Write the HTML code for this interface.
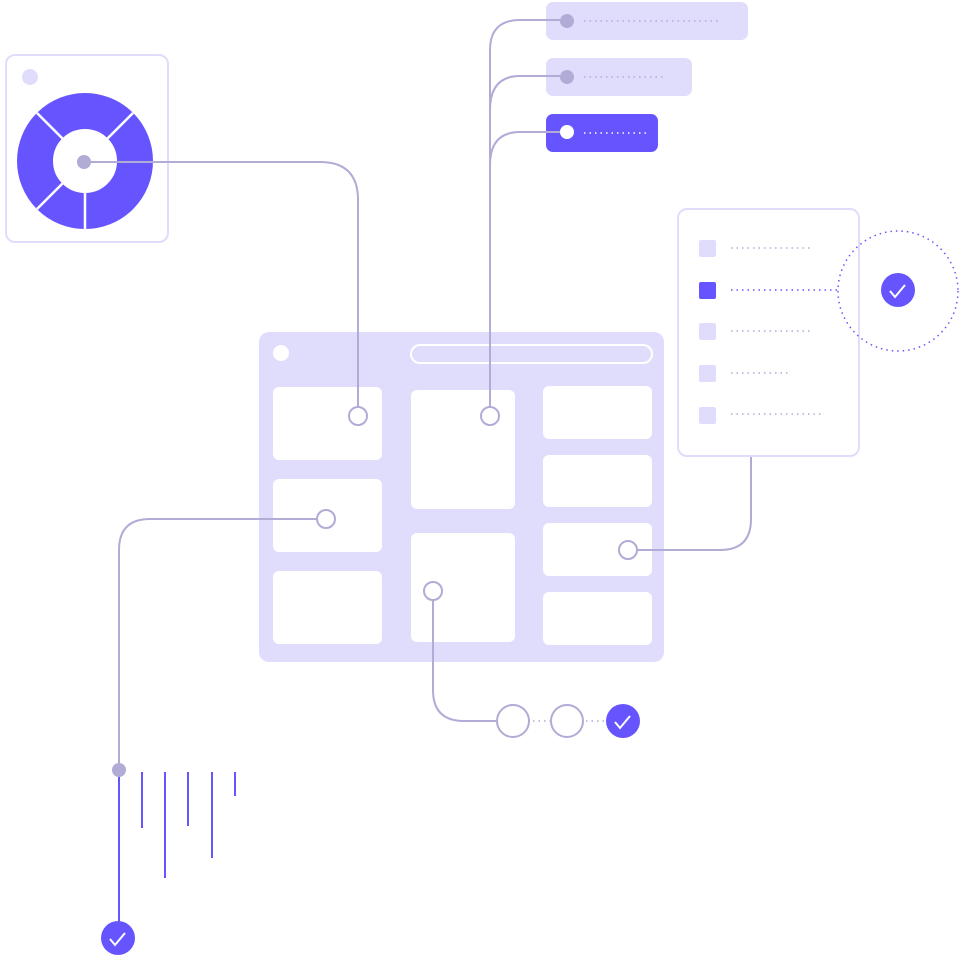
<!DOCTYPE html>
<html><head><style>html,body{margin:0;padding:0;background:#fff}svg{display:block}</style></head>
<body>
<svg width="961" height="960" viewBox="0 0 961 960" xmlns="http://www.w3.org/2000/svg">
<!-- left panel -->
<rect x="6" y="55" width="162" height="187" rx="9" fill="#fff" stroke="#e0ddfc" stroke-width="2"/>
<circle cx="30" cy="77" r="8" fill="#e0ddfc"/>
<circle cx="85" cy="161" r="50" fill="none" stroke="#6655ff" stroke-width="36"/>
<g stroke="#fff" stroke-width="2.5">
<line x1="85" y1="161" x2="133" y2="113"/>
<line x1="85" y1="161" x2="37" y2="113"/>
<line x1="85" y1="161" x2="37" y2="209"/>
<line x1="85" y1="161" x2="85" y2="230"/>
</g>
<circle cx="85" cy="161" r="31" fill="#fff"/>
<!-- pills -->
<rect x="546" y="2" width="202" height="38" rx="7" fill="#e0ddfc"/>
<rect x="546" y="58" width="146" height="38" rx="7" fill="#e0ddfc"/>
<rect x="546" y="114" width="112" height="38" rx="7" fill="#6655ff"/>
<!-- main panel -->
<rect x="259" y="332" width="405" height="330" rx="10" fill="#e0ddfc"/>
<circle cx="281" cy="353" r="8" fill="#fff"/>
<rect x="411" y="345" width="241" height="18" rx="9" fill="none" stroke="#fff" stroke-width="2"/>
<g fill="#fff">
<rect x="273" y="387" width="109" height="73" rx="6"/>
<rect x="273" y="479" width="109" height="73" rx="6"/>
<rect x="273" y="571" width="109" height="73" rx="6"/>
<rect x="411" y="390" width="104" height="119" rx="6"/>
<rect x="411" y="533" width="104" height="109" rx="6"/>
<rect x="543" y="386" width="109" height="53" rx="6"/>
<rect x="543" y="455" width="109" height="52" rx="6"/>
<rect x="543" y="523" width="109" height="53" rx="6"/>
<rect x="543" y="592" width="109" height="53" rx="6"/>
</g>
<!-- list panel -->
<rect x="678" y="209" width="181" height="247" rx="9" fill="#fff" stroke="#e0ddfc" stroke-width="2"/>
<!-- connectors on top -->
<g fill="none" stroke="#b0acd6" stroke-width="2">
<path d="M84 162 H320 Q358 162 358 200 V407"/>
<path d="M490 407 V50 Q490 20 520 20 H560"/>
<path d="M490 110 Q490 76 520 76 H560"/>
<path d="M490 165 Q490 132 520 132 H560"/>
<path d="M317 519 H150 Q119 519 119 550 V770"/>
<path d="M433 600 V690 Q433 721 464 721 H496"/>
<path d="M637 550 H720 Q751 550 751 519 V457"/>
</g>
<circle cx="84" cy="162" r="7" fill="#b0acd6"/>
<circle cx="567" cy="21" r="7" fill="#b0acd6"/>
<circle cx="567" cy="77" r="7" fill="#b0acd6"/>
<circle cx="567" cy="132" r="7" fill="#fff"/>
<g fill="#fff" stroke="#b0acd6" stroke-width="2">
<circle cx="358" cy="416" r="9"/>
<circle cx="490" cy="416" r="9"/>
<circle cx="326" cy="519" r="9"/>
<circle cx="628" cy="550" r="9"/>
<circle cx="433" cy="591" r="9"/>
</g>
<g fill="#e0ddfc">
<rect x="699" y="240" width="17" height="17" rx="2"/>
<rect x="699" y="323" width="17" height="17" rx="2"/>
<rect x="699" y="365" width="17" height="17" rx="2"/>
<rect x="699" y="407" width="17" height="17" rx="2"/>
</g>
<rect x="699" y="282" width="17" height="17" rx="2" fill="#6655ff"/>
<g stroke-width="1.5" stroke-dasharray="1.5 4" fill="none">
<line x1="584" y1="21" x2="720" y2="21" stroke="#b0acd6"/>
<line x1="584" y1="77" x2="664" y2="77" stroke="#b0acd6"/>
<line x1="584" y1="133" x2="648" y2="133" stroke="#fff"/>
<line x1="731" y1="248" x2="810" y2="248" stroke="#b0acd6"/>
<line x1="731" y1="290" x2="838" y2="290" stroke="#6655ff"/>
<line x1="731" y1="331" x2="810" y2="331" stroke="#b0acd6"/>
<line x1="731" y1="373" x2="788" y2="373" stroke="#b0acd6"/>
<line x1="731" y1="414" x2="822" y2="414" stroke="#b0acd6"/>
<circle cx="898" cy="291" r="60" stroke="#6655ff"/>
<line x1="533" y1="721" x2="550" y2="721" stroke="#b0acd6"/>
<line x1="586" y1="721" x2="606" y2="721" stroke="#b0acd6"/>
</g>
<circle cx="898" cy="290" r="17" fill="#6655ff"/>
<path d="M890 291 l5 6 l10 -12" stroke="#fff" stroke-width="2" fill="none"/>
<circle cx="513" cy="721" r="16" fill="#fff" stroke="#b0acd6" stroke-width="2"/>
<circle cx="567" cy="721" r="16" fill="#fff" stroke="#b0acd6" stroke-width="2"/>
<circle cx="623" cy="721" r="17" fill="#6655ff"/>
<path d="M615 722 l5 6 l10 -12" stroke="#fff" stroke-width="2" fill="none"/>
<line x1="119" y1="770" x2="119" y2="922" stroke="#6655ff" stroke-width="2"/>
<circle cx="119" cy="770" r="7" fill="#b0acd6"/>
<g stroke="#6655ff" stroke-width="2">
<line x1="142" y1="772" x2="142" y2="828"/>
<line x1="165" y1="772" x2="165" y2="878"/>
<line x1="188" y1="772" x2="188" y2="826"/>
<line x1="212" y1="772" x2="212" y2="858"/>
<line x1="235" y1="772" x2="235" y2="796"/>
</g>
<circle cx="118" cy="938" r="17" fill="#6655ff"/>
<path d="M110 939 l5 6 l10 -12" stroke="#fff" stroke-width="2" fill="none"/>
</svg>
</body></html>
